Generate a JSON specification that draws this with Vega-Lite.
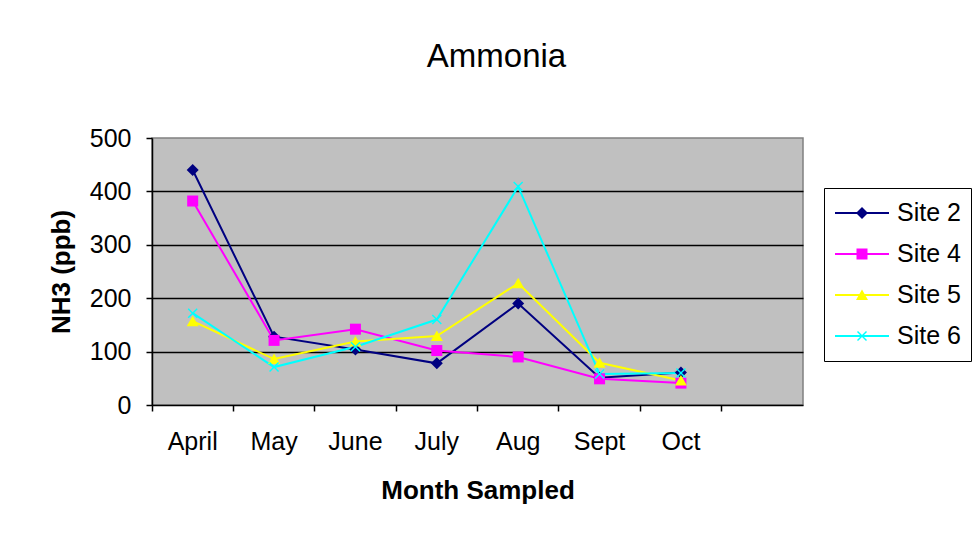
{
  "$schema": "https://vega.github.io/schema/vega-lite/v6.json",
  "width": 651,
  "height": 267,
  "autosize": {"type": "none"},
  "padding": {"left": 152, "top": 138, "right": 176, "bottom": 133},
  "background": "white",
  "title": {
    "text": "Ammonia",
    "font": "Liberation Sans",
    "fontSize": 33,
    "fontWeight": "normal",
    "color": "black",
    "anchor": "middle",
    "frame": "group",
    "dx": 19,
    "offset": 26,
    "baseline": "alphabetic"
  },
  "config": {
    "view": {"fill": "#C0C0C0", "stroke": "#808080", "strokeWidth": 1.5},
    "axis": {
      "labelFont": "Liberation Sans",
      "labelFontSize": 25,
      "labelColor": "black",
      "titleFont": "Liberation Sans",
      "titleFontSize": 26,
      "titleFontWeight": "bold",
      "titleColor": "black",
      "domainColor": "black",
      "domainWidth": 1.5,
      "tickColor": "black",
      "tickWidth": 1.5,
      "tickSize": 6
    }
  },
  "data": {
    "values": [
      {"site": "Site 2", "month": "April", "idx": 1, "nh3": 440},
      {"site": "Site 2", "month": "May", "idx": 2, "nh3": 128},
      {"site": "Site 2", "month": "June", "idx": 3, "nh3": 104},
      {"site": "Site 2", "month": "July", "idx": 4, "nh3": 78},
      {"site": "Site 2", "month": "Aug", "idx": 5, "nh3": 190},
      {"site": "Site 2", "month": "Sept", "idx": 6, "nh3": 51},
      {"site": "Site 2", "month": "Oct", "idx": 7, "nh3": 61},
      {"site": "Site 4", "month": "April", "idx": 1, "nh3": 382},
      {"site": "Site 4", "month": "May", "idx": 2, "nh3": 121},
      {"site": "Site 4", "month": "June", "idx": 3, "nh3": 142},
      {"site": "Site 4", "month": "July", "idx": 4, "nh3": 102},
      {"site": "Site 4", "month": "Aug", "idx": 5, "nh3": 90},
      {"site": "Site 4", "month": "Sept", "idx": 6, "nh3": 49},
      {"site": "Site 4", "month": "Oct", "idx": 7, "nh3": 41},
      {"site": "Site 5", "month": "April", "idx": 1, "nh3": 157},
      {"site": "Site 5", "month": "May", "idx": 2, "nh3": 86},
      {"site": "Site 5", "month": "June", "idx": 3, "nh3": 119},
      {"site": "Site 5", "month": "July", "idx": 4, "nh3": 129},
      {"site": "Site 5", "month": "Aug", "idx": 5, "nh3": 228},
      {"site": "Site 5", "month": "Sept", "idx": 6, "nh3": 79},
      {"site": "Site 5", "month": "Oct", "idx": 7, "nh3": 46},
      {"site": "Site 6", "month": "April", "idx": 1, "nh3": 172},
      {"site": "Site 6", "month": "May", "idx": 2, "nh3": 71},
      {"site": "Site 6", "month": "June", "idx": 3, "nh3": 109},
      {"site": "Site 6", "month": "July", "idx": 4, "nh3": 160},
      {"site": "Site 6", "month": "Aug", "idx": 5, "nh3": 409},
      {"site": "Site 6", "month": "Sept", "idx": 6, "nh3": 58},
      {"site": "Site 6", "month": "Oct", "idx": 7, "nh3": 60}
    ]
  },
  "encoding": {
    "x": {
      "field": "month",
      "type": "nominal",
      "bandPosition": 0.5,
      "scale": {
        "type": "band",
        "domain": ["April", "May", "June", "July", "Aug", "Sept", "Oct", "_"],
        "paddingInner": 0,
        "paddingOuter": 0
      },
      "axis": {
        "title": "Month Sampled",
        "grid": false,
        "bandPosition": 0,
        "labelAngle": 0,
        "labelAlign": "center",
        "labelPadding": 18,
        "titlePadding": 23,
        "labelExpr": "datum.value == '_' ? '' : datum.value"
      }
    },
    "y": {
      "field": "nh3",
      "type": "quantitative",
      "scale": {"domain": [0, 500], "nice": false},
      "axis": {
        "title": "NH3 (ppb)",
        "values": [0, 100, 200, 300, 400, 500],
        "grid": true,
        "gridColor": {"condition": {"test": "datum.value == 500 || datum.value == 0", "value": "transparent"}, "value": "black"},
        "gridWidth": 1.5,
        "labelPadding": 15,
        "titlePadding": 15
      }
    }
  },
  "layer": [
    {
      "mark": {"type": "line", "strokeWidth": 2},
      "encoding": {
        "order": {"field": "idx", "type": "quantitative"},
        "stroke": {
          "field": "site",
          "type": "nominal",
          "scale": {
            "domain": ["Site 2", "Site 4", "Site 5", "Site 6"],
            "range": ["#000080", "#FF00FF", "#FFFF00", "#00FFFF"]
          },
          "legend": {
            "orient": "none",
            "legendX": 672,
            "legendY": 50,
            "title": null,
            "labelFont": "Liberation Sans",
            "labelFontSize": 25,
            "labelColor": "black",
            "clipHeight": 30,
            "rowPadding": 11,
            "padding": 10,
            "symbolType": "stroke",
            "symbolSize": 2916,
            "symbolStrokeWidth": 2,
            "symbolOffset": 0,
            "labelOffset": 7,
            "fillColor": "white",
            "strokeColor": "black"
          }
        }
      }
    },
    {
      "mark": {"type": "point", "filled": true, "size": 100, "opacity": 1, "strokeWidth": 0},
      "encoding": {
        "color": {
          "field": "site",
          "type": "nominal",
          "scale": {"range": ["#000080", "#FF00FF", "#FFFF00", "#00FFFF"]},
          "legend": {
            "orient": "none",
            "legendX": 672,
            "legendY": 50,
            "title": null,
            "labelFont": "Liberation Sans",
            "labelFontSize": 1,
            "labelOpacity": 0,
            "clipHeight": 30,
            "rowPadding": 11,
            "padding": 10,
            "symbolSize": 100,
            "symbolStrokeWidth": 0,
            "symbolOffset": 23,
            "labelOffset": 0
          }
        },
        "shape": {
          "field": "site",
          "type": "nominal",
          "scale": {
            "range": [
              "M0,-1.2L1.2,0L0,1.2L-1.2,0Z",
              "M-1.1,-1.1H1.1V1.1H-1.1Z",
              "M0,-1.1L1.2,1L-1.2,1Z",
              "M-1,-0.8L-0.8,-1L0,-0.2L0.8,-1L1,-0.8L0.2,0L1,0.8L0.8,1L0,0.2L-0.8,1L-1,0.8L-0.2,0Z"
            ]
          },
          "legend": {
            "orient": "none",
            "legendX": 672,
            "legendY": 50,
            "title": null,
            "labelFont": "Liberation Sans",
            "labelFontSize": 1,
            "labelOpacity": 0,
            "clipHeight": 30,
            "rowPadding": 11,
            "padding": 10,
            "symbolSize": 100,
            "symbolStrokeWidth": 0,
            "symbolOffset": 23,
            "labelOffset": 0
          }
        }
      }
    }
  ]
}
